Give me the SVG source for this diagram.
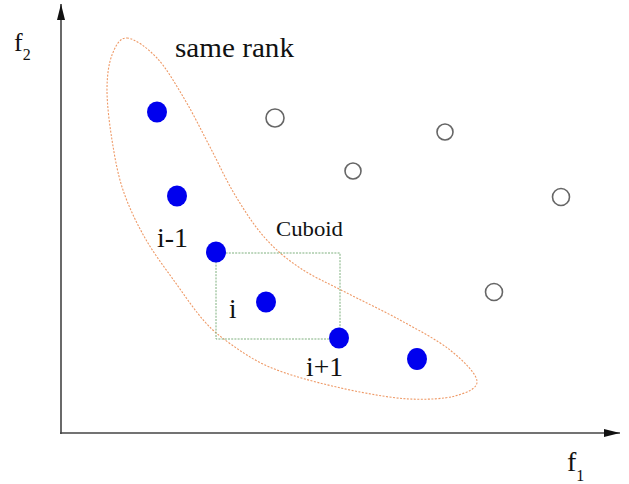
<svg xmlns="http://www.w3.org/2000/svg" width="629" height="484" viewBox="0 0 629 484">
<style>
.lbl{font-family:"Liberation Serif","Times New Roman",serif;fill:#111}
.pt{fill:#0000ee}
.op{fill:none;stroke:#666;stroke-width:1.6}
.axis{stroke:#444;stroke-width:1.6;fill:none}
</style>
<defs>
<marker id="arr" viewBox="0 0 16 8" refX="16" refY="4" markerWidth="16" markerHeight="8" markerUnits="userSpaceOnUse" orient="auto">
<path d="M0,0 L16,4 L0,8 Z" fill="#111"/>
</marker>
</defs>
<g id="connectors">
<path id="y-axis" class="axis" d="M61,434 L61,4" marker-end="url(#arr)"/>
<path id="x-axis" class="axis" d="M60,433 L620,433" marker-end="url(#arr)"/>
</g>
<g id="same-rank-region">
<path fill="none" stroke="#ee9966" stroke-width="1.1" stroke-dasharray="2 1.5" d="M127,38 C134.5,38.5 147.33,47.67 157,58 C166.67,68.33 176.17,85.17 185,100 C193.83,114.83 201.67,131.17 210,147 C218.33,162.83 225.83,179.83 235,195 C244.17,210.17 254.170,225.83 265,238 C275.83,250.17 286.67,259 300,268 C313.33,277 328.33,283.33 345,292 C361.67,300.67 382.5,310.33 400,320 C417.5,329.67 437.17,339.83 450,350 C462.83,360.17 476.17,373.33 477,381 C477.83,388.67 466.17,393 455,396 C443.83,399 425.83,399.67 410,399 C394.17,398.33 377.5,395.33 360,392 C342.5,388.67 320.83,383.5 305,379 C289.17,374.5 277.17,370.67 265,365 C252.83,359.33 242,352.17 232,345 C222,337.83 214.5,332.5 205,322 C195.5,311.5 185,296 175,282 C165,268 153.67,253.33 145,238 C136.33,222.67 128.5,206.33 123,190 C117.5,173.67 114.67,156.67 112,140 C109.33,123.33 107,104.17 107,90 C107,75.83 108.67,63.67 112,55 C115.33,46.33 119.5,37.5 127,38 Z"/>
<text class="lbl" x="175" y="57" font-size="28" textLength="119" lengthAdjust="spacingAndGlyphs">same rank</text>
</g>
<g id="cuboid">
<rect x="216" y="253" width="124" height="86" fill="none" stroke="#7fb07f" stroke-width="1" stroke-dasharray="2 1.2"/>
<text class="lbl" x="276" y="236" font-size="21" textLength="67" lengthAdjust="spacingAndGlyphs">Cuboid</text>
</g>
<g id="p1"><ellipse class="pt" cx="157" cy="112" rx="10" ry="10.5"/></g>
<g id="p2"><ellipse class="pt" cx="177" cy="196" rx="10" ry="10.5"/></g>
<g id="p-im1"><ellipse class="pt" cx="216" cy="252" rx="10" ry="10.5"/><text class="lbl" x="157" y="247" font-size="27" textLength="31" lengthAdjust="spacingAndGlyphs">i-1</text></g>
<g id="p-i"><ellipse class="pt" cx="266" cy="302" rx="10" ry="10.5"/><text class="lbl" x="229" y="318" font-size="27">i</text></g>
<g id="p-ip1"><ellipse class="pt" cx="339" cy="338" rx="10" ry="10.5"/><text class="lbl" x="306" y="376" font-size="27" textLength="37" lengthAdjust="spacingAndGlyphs">i+1</text></g>
<g id="p6"><ellipse class="pt" cx="417" cy="359" rx="10" ry="11"/></g>
<g id="o1"><circle class="op" cx="275" cy="118" r="9" stroke="#333"/></g>
<g id="o2"><circle class="op" cx="445" cy="132" r="8"/></g>
<g id="o3"><circle class="op" cx="353" cy="171" r="8"/></g>
<g id="o4"><circle class="op" cx="561" cy="197" r="8.5"/></g>
<g id="o5"><circle class="op" cx="494" cy="292" r="8.5"/></g>
<g id="label-f2"><text class="lbl" x="14" y="51" font-size="26">f<tspan font-size="16" dy="9">2</tspan></text></g>
<g id="label-f1"><text class="lbl" x="567" y="471" font-size="28">f<tspan font-size="16" dy="10">1</tspan></text></g>
</svg>
